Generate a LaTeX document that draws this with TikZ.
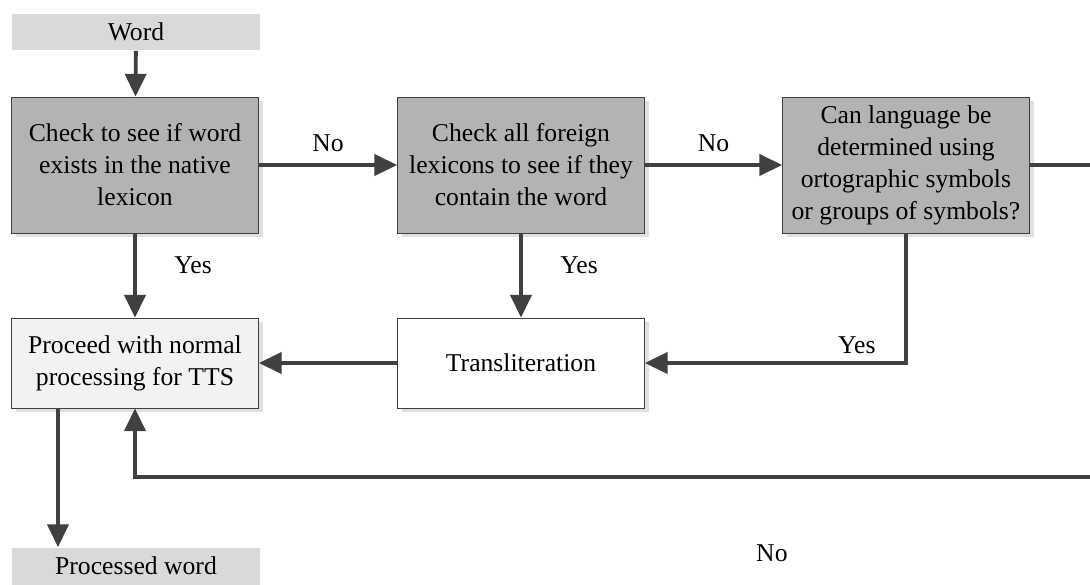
\documentclass[tikz,border=0pt]{standalone}
\usepackage{fontspec}
\setmainfont{Liberation Serif}
\usetikzlibrary{arrows.meta, shadows}

\definecolor{linegray}{HTML}{404040}
\definecolor{darkbox}{HTML}{B3B3B3}
\definecolor{iobox}{HTML}{D9D9D9}
\definecolor{lightbox}{HTML}{F2F2F2}

\begin{document}
\begin{tikzpicture}[x=0.02cm, y=-0.02cm,
    every node/.style={font=\fontsize{14.6}{18.2}\selectfont, align=center},
    box/.style={draw=linegray, thin, minimum width=4.94cm, minimum height=2.72cm,
        drop shadow={shadow xshift=2.5pt, shadow yshift=-2.5pt, fill=black!12, opacity=1}},
    iobox/.style={fill=iobox, minimum width=4.96cm, minimum height=0.74cm, inner sep=0pt},
    flow/.style={draw=linegray, line width=2.2pt,
        -{Triangle[length=13pt, width=12pt]}},
    lbl/.style={font=\fontsize{14.6}{18.2}\selectfont}]
        \useasboundingbox (0,0) rectangle (1090,585);

        % Input and output of the chain
        \node[iobox] (word) at (136,32) {Word};
        \node[iobox] (done) at (136,566) {Processed word};

        % The three tests along the top
        \node[box, fill=darkbox] (native) at (135,165) {Check to see if word\\exists in the native\\lexicon};
        \node[box, fill=darkbox] (foreign) at (521,165) {Check all foreign\\lexicons to see if they\\contain the word};
        \node[box, fill=darkbox] (ortho) at (906,165) {Can language be\\determined using\\ortographic symbols\\or groups of symbols?};

        % The two processing boxes
        \node[box, fill=lightbox, minimum height=1.8cm] (proc) at (135,363) {Proceed with normal\\processing for TTS};
        \node[box, fill=white, minimum height=1.8cm] (trans) at (521,363) {Transliteration};

        % Helper points for the outer loop and the output line
        \coordinate (loopR) at (1100,477);
        \coordinate (loopL) at (135,477);
        \coordinate (outx) at (58,0);

        % Connectors
        \draw[flow] (word) -- (native);
        \draw[flow] (native) -- node[lbl, above=3pt] (no1) {No} (foreign);
        \draw[flow] (foreign) -- node[lbl, above=3pt] (no2) {No} (ortho);
        \draw[flow] (native) -- node[lbl, right=18pt, yshift=6pt] (yes1) {Yes} (proc);
        \draw[flow] (foreign) -- node[lbl, right=18pt, yshift=6pt] (yes2) {Yes} (trans);
        \draw[flow] (ortho.south) |- node[lbl, pos=0.594, above=1pt] (yes3) {Yes} (trans.east);
        \draw[flow] (trans) -- (proc);
        \draw[flow] (ortho.east) -| (loopR) -- node[lbl, pos=0.34, below=34pt] (no3) {No} (loopL) -- (proc.south -| loopL);
        \draw[flow] (proc.south -| outx) -- (done.north -| outx);
    \end{tikzpicture}
\end{document}
